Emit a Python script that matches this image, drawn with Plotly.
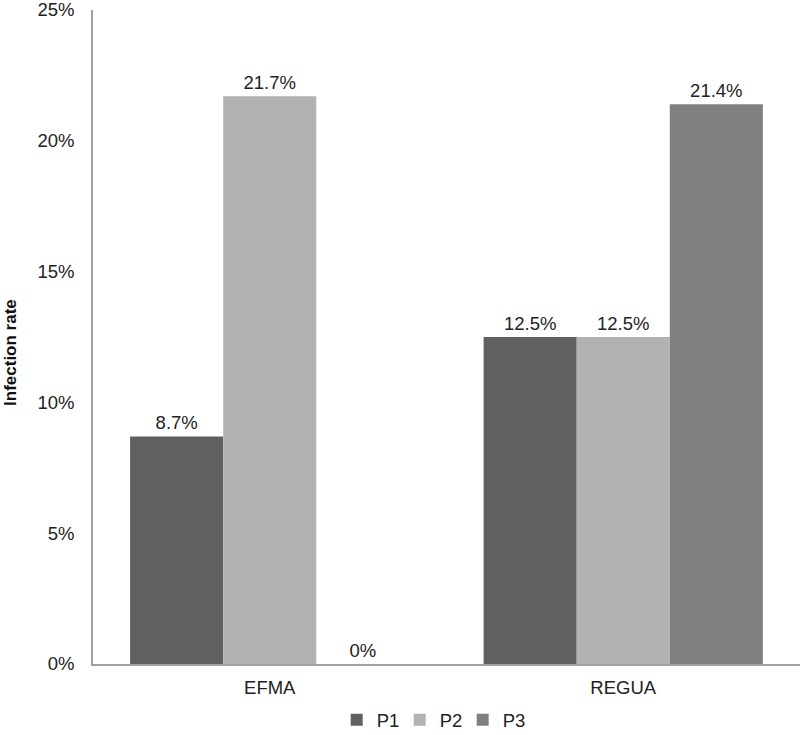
import plotly.graph_objects as go

categories = ["EFMA", "REGUA"]
series_names = ["P1", "P2", "P3"]
p1 = [8.7, 12.5]
p2 = [21.7, 12.5]
p3 = [0, 21.4]
colors = ["#606060", "#b2b2b2", "#808080"]
y_ticks = [0, 5, 10, 15, 20, 25]
y_ticktext = ["0%", "5%", "10%", "15%", "20%", "25%"]

def fmt(v):
    return "0%" if v == 0 else f"{v:.1f}%"

FS = 18.5

fig = go.Figure()
for name, vals, col in zip(series_names, [p1, p2, p3], colors):
    fig.add_trace(go.Bar(
        x=categories, y=vals, name=name, marker=dict(color=col, line=dict(width=0)),
        text=[fmt(v) for v in vals], textposition="outside", cliponaxis=False,
        textfont=dict(size=FS, color="#222222"),
    ))

fig.update_layout(
    width=800, height=735,
    margin=dict(l=93, r=0, t=10, b=71),
    barmode="group", bargap=0.21, bargroupgap=0,
    plot_bgcolor="white", paper_bgcolor="white",
    font=dict(family="Liberation Sans, Arial, sans-serif", size=FS, color="#222222"),
    showlegend=True,
    legend=dict(orientation="h", x=0.539, xanchor="center", xref="container",
                y=0.046, yanchor="top", yref="container",
                font=dict(size=FS), entrywidth=18, entrywidthmode="pixels",
                itemwidth=30, tracegroupgap=0),
    yaxis=dict(range=[0, 25], tickvals=y_ticks, ticktext=y_ticktext,
               showgrid=False, zeroline=False, showline=True, linecolor="#a0a0a0",
               linewidth=1.5, ticks="", ticklen=0, ticklabelstandoff=13,
               ticklabeloverflow="allow", automargin=False),
    xaxis=dict(showgrid=False, showline=True, linecolor="#a0a0a0", linewidth=1.5, ticks="",
               ticklabelstandoff=6, automargin=False),
    annotations=[dict(text="<b>Infection rate</b>", textangle=-90, xref="paper", yref="paper",
                      x=0, xshift=-82, y=0.4756, xanchor="center", yanchor="middle",
                      showarrow=False, font=dict(size=17, color="#111111"))],
)

fig.write_html("out.html", config={"displayModeBar": False},
               post_script="document.body.style.margin='0px';")
